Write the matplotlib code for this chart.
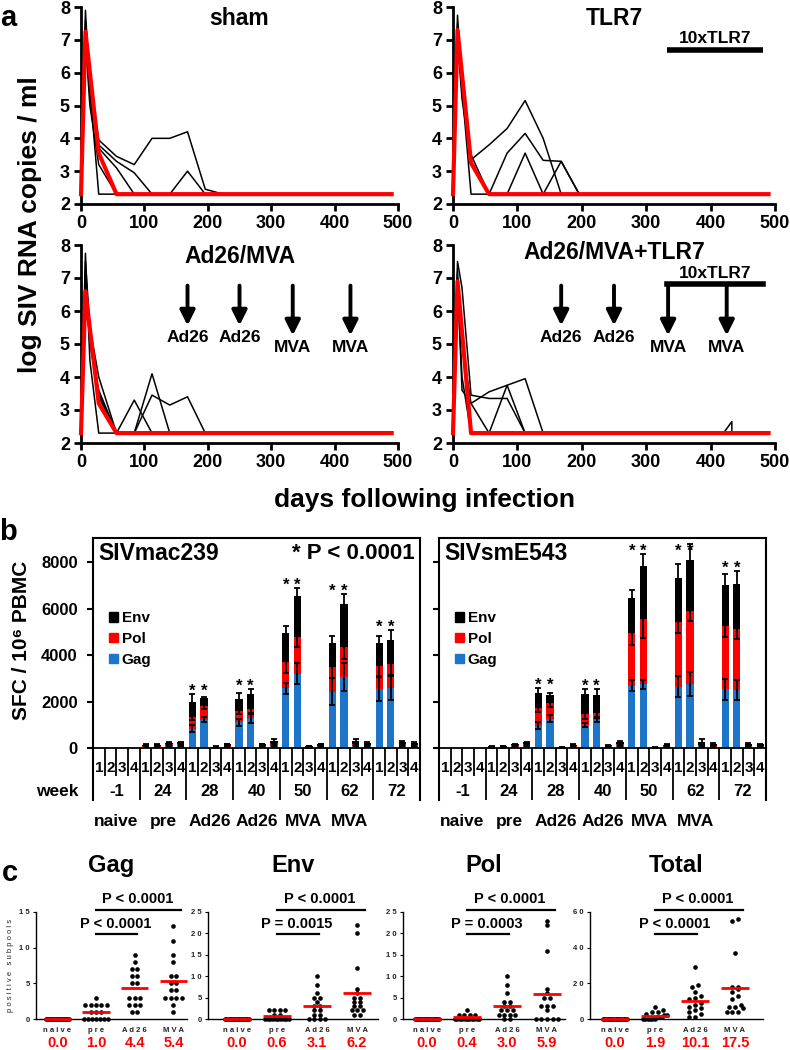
import matplotlib
matplotlib.use('Agg')
import matplotlib.pyplot as plt
import matplotlib.transforms as mtransforms
from matplotlib.patches import Patch
import numpy as np

plt.rcParams['font.family'] = ['Liberation Sans', 'DejaVu Sans']
plt.rcParams['font.weight'] = 'bold'

W, H = 790, 1050
RED = '#ff0000'
BLUE = '#1c75c8'

# ---------------- a: plasma viral loads ----------------
days = [0, 7, 14, 28, 56, 84, 112, 140, 168, 196, 224, 490]
days_late = [0, 7, 14, 28, 56, 84, 112, 140, 168, 196, 224, 420, 433, 433, 490]
mean_days = [0, 7, 28, 56, 490]

sham_vl = [
    [2.3, 7.9, 5.5, 2.3, 2.3, 2.3, 2.3, 2.3, 2.3, 2.3, 2.3, 2.3],
    [2.3, 7.6, 5.8, 3.95, 3.45, 3.2, 4.0, 4.0, 4.2, 2.45, 2.3, 2.3],
    [2.3, 7.4, 5.5, 3.8, 3.3, 2.95, 2.3, 2.3, 3.0, 2.3, 2.3, 2.3],
    [2.3, 7.2, 5.3, 3.7, 3.1, 2.3, 2.3, 2.3, 2.3, 2.3, 2.3, 2.3],
    [2.3, 7.0, 5.0, 3.2, 2.3, 2.3, 2.3, 2.3, 2.3, 2.3, 2.3, 2.3],
]
sham_mean = [2.3, 7.25, 3.55, 2.3, 2.3]

tlr7_vl = [
    [2.3, 7.75, 5.5, 2.3, 2.3, 2.3, 2.3, 2.3, 2.3, 2.3, 2.3, 2.3],
    [2.3, 7.5, 5.6, 3.35, 3.8, 4.3, 5.15, 4.0, 2.3, 2.3, 2.3, 2.3],
    [2.3, 7.3, 5.4, 3.5, 2.3, 3.55, 4.15, 3.33, 3.3, 2.3, 2.3, 2.3],
    [2.3, 7.0, 5.2, 3.3, 2.3, 2.3, 3.55, 2.3, 3.3, 2.3, 2.3, 2.3],
]
tlr7_mean = [2.3, 7.3, 3.25, 2.3, 2.3]

vac_vl = [
    [2.3, 7.75, 4.5, 2.3, 2.3, 2.3, 2.3, 2.3, 2.3, 2.3, 2.3, 2.3],
    [2.3, 7.5, 5.5, 4.0, 2.3, 2.3, 2.3, 2.3, 2.3, 2.3, 2.3, 2.3],
    [2.3, 7.2, 5.3, 3.4, 2.3, 3.3, 2.3, 2.3, 2.3, 2.3, 2.3, 2.3],
    [2.3, 7.0, 5.0, 3.6, 2.3, 2.3, 4.1, 2.3, 2.3, 2.3, 2.3, 2.3],
    [2.3, 6.8, 5.2, 3.5, 2.3, 2.3, 3.45, 3.15, 3.4, 2.3, 2.3, 2.3],
]
vac_mean = [2.3, 6.6, 3.2, 2.3, 2.3]

vactlr_vl = [
    [2.3, 7.5, 6.7, 3.45, 3.35, 3.35, 2.3, 2.3, 2.3, 2.3, 2.3, 2.3, 2.3, 2.3, 2.3],
    [2.3, 7.0, 3.6, 3.2, 2.3, 3.75, 2.3, 2.3, 2.3, 2.3, 2.3, 2.3, 2.3, 2.3, 2.3],
    [2.3, 7.2, 5.0, 3.2, 3.55, 3.75, 3.95, 2.3, 2.3, 2.3, 2.3, 2.3, 2.3, 2.3, 2.3],
    [2.3, 6.8, 4.0, 2.3, 2.3, 2.3, 2.3, 2.3, 2.3, 2.3, 2.3, 2.3, 2.65, 2.3, 2.3],
]
vactlr_mean = [2.3, 6.9, 2.3, 2.3, 2.3]

ad26_days = [168, 250]
mva_days = [334, 425]
tlr7_window = [333, 482]

# ---------------- b: ELISPOT (SFC / 10^6 PBMC) ----------------
weeks = ['-1', '24', '28', '40', '50', '62', '72']
bar_labels = ['1', '2', '3', '4']
regimen = ['naive', 'pre', 'Ad26', 'Ad26', 'MVA', 'MVA']
star_groups = [2, 3, 4, 5, 6]

mac_gag = [0, 0, 0, 0, 60, 60, 110, 120, 830, 1230, 20, 60, 1110, 1300, 70, 130,
           2570, 3190, 40, 60, 2430, 3040, 100, 80, 2540, 2570, 100, 70]
mac_pol = [0, 0, 0, 0, 40, 40, 60, 60, 530, 600, 20, 50, 490, 390, 40, 90,
           1120, 1570, 20, 50, 1070, 1290, 80, 60, 1000, 1040, 70, 80]
mac_env = [0, 0, 0, 0, 50, 50, 70, 80, 640, 320, 30, 70, 510, 640, 70, 110,
           1280, 1780, 40, 70, 1040, 1880, 120, 90, 1000, 1030, 110, 70]
mac_gag_err = [0, 0, 0, 0, 10, 10, 20, 20, 150, 120, 5, 10, 150, 200, 10, 20,
               250, 450, 10, 10, 590, 600, 20, 10, 520, 520, 20, 10]
mac_pol_err = [0, 0, 0, 0, 10, 10, 20, 20, 150, 150, 5, 10, 150, 200, 10, 20,
               450, 400, 10, 10, 500, 500, 20, 10, 450, 450, 20, 10]
mac_env_err = [0, 0, 0, 0, 15, 15, 25, 25, 330, 60, 10, 20, 260, 210, 20, 70,
               270, 330, 15, 20, 290, 400, 100, 30, 290, 430, 50, 30]

sm_gag = [0, 0, 0, 0, 30, 40, 70, 110, 970, 1260, 20, 60, 1000, 1210, 50, 120,
          2690, 2740, 10, 60, 2640, 2760, 80, 60, 2540, 2500, 60, 60]
sm_pol = [0, 0, 0, 0, 25, 30, 50, 70, 770, 700, 10, 40, 470, 290, 30, 60,
          2240, 2790, 10, 40, 2790, 3140, 70, 50, 2700, 2640, 40, 50]
sm_env = [0, 0, 0, 0, 25, 30, 50, 70, 620, 330, 20, 50, 840, 790, 50, 80,
          1530, 2280, 20, 50, 1900, 2200, 100, 70, 1760, 1900, 70, 60]
sm_gag_err = [0, 0, 0, 0, 10, 10, 10, 20, 150, 150, 5, 10, 100, 100, 10, 20,
              250, 200, 5, 10, 450, 500, 20, 10, 450, 450, 10, 10]
sm_pol_err = [0, 0, 0, 0, 10, 10, 20, 20, 200, 200, 5, 10, 200, 150, 10, 20,
              500, 800, 5, 10, 500, 450, 30, 10, 450, 450, 10, 10]
sm_env_err = [0, 0, 0, 0, 15, 15, 20, 30, 210, 90, 10, 20, 220, 240, 15, 30,
              330, 530, 10, 20, 600, 670, 150, 30, 500, 570, 50, 30]

# ---------------- c: positive subpools ----------------
c_categories = ['naive', 'pre', 'Ad26', 'MVA']
naive_zero = [0, 0, 0, 0, 0, 0, 0, 0, 0, 0, 0, 0, 0, 0, 0, 0]
gag_pre = [3, 2, 2, 2, 2, 2, 1, 1, 1, 0, 0, 0, 0, 0, 0, 0]
gag_ad26 = [9, 8, 7, 7, 6, 6, 5, 5, 3, 3, 3, 2, 2, 2, 1, 1]
gag_mva = [13, 11, 9, 8, 6, 6, 5, 5, 4, 4, 3, 3, 3, 3, 2, 1]
env_pre = [2, 2, 2, 2, 1, 1, 0, 0, 0, 0, 0, 0, 0, 0, 0, 0]
env_ad26 = [10, 8, 6, 5, 5, 4, 3, 3, 2, 2, 1, 1, 0, 0, 0, 0]
env_mva = [22, 20, 12, 7, 6, 5, 5, 4, 4, 3, 3, 2, 2, 2, 1, 1]
pol_pre = [2, 1, 1, 1, 1, 0, 0, 0, 0, 0, 0, 0, 0, 0, 0, 0]
pol_ad26 = [10, 8, 6, 4, 4, 3, 3, 2, 2, 2, 1, 1, 1, 1, 0, 0]
pol_mva = [23, 22, 16, 7, 6, 5, 5, 3, 3, 3, 2, 0, 0, 0, 0, 0]
tot_pre = [7, 5, 4, 4, 3, 2, 2, 1, 1, 1, 0, 0, 0, 0, 0, 0]
tot_ad26 = [29, 19, 18, 15, 13, 12, 11, 9, 8, 7, 6, 5, 4, 3, 1, 1]
tot_mva = [56, 55, 37, 18, 18, 17, 15, 13, 11, 8, 7, 7, 6, 4, 4, 4]

fig = plt.figure(figsize=(7.9, 10.5), dpi=100)


def box(l, t, r, b):
    return fig.add_axes([l / W, 1 - b / H, (r - l) / W, (b - t) / H])


def ftext(x, y, s, **kw):
    fig.text(x / W, 1 - y / H, s, **kw)


# ---------- panel a ----------
def vl_panel(ax, d, vl, mean, title, ty):
    for row in vl:
        ax.plot(d, row, color='black', lw=1.1, zorder=2, clip_on=False)
    ax.plot(mean_days, mean, color=RED, lw=3, zorder=3, clip_on=False)
    ax.set_xlim(0, 500)
    ax.set_ylim(2, 8)
    ax.set_xticks([0, 100, 200, 300, 400, 500])
    ax.set_yticks([2, 3, 4, 5, 6, 7, 8])
    ax.spines[['top', 'right']].set_visible(False)
    ax.spines[['left', 'bottom']].set_linewidth(2)
    ax.tick_params(direction='out', width=2, length=5, labelsize=13, pad=3)
    ax.text(0.5, ty, title, transform=ax.transAxes, ha='center', va='center', fontsize=16.5)


def vacc_arrows(ax, mva_top):
    style = dict(arrowstyle='-|>,head_width=0.45,head_length=0.9', lw=2.8, color='black',
                 shrinkA=0, shrinkB=0)
    for d in ad26_days:
        ax.annotate('', xy=(d, 5.56), xytext=(d, 6.77), arrowprops=style)
        ax.text(d, 5.2, 'Ad26', ha='center', va='center', fontsize=12.5)
    for d in mva_days:
        ax.annotate('', xy=(d, 5.26), xytext=(d, mva_top), arrowprops=style)
        ax.text(d, 4.9, 'MVA', ha='center', va='center', fontsize=12.5)


a1 = box(81, 7, 398, 204)
vl_panel(a1, days, sham_vl, sham_mean, 'sham', 0.944)
a2 = box(453, 7, 775, 204)
vl_panel(a2, days, tlr7_vl, tlr7_mean, 'TLR7', 0.944)
a2.plot(tlr7_window, [6.68, 6.68], color='black', lw=4, solid_capstyle='butt')
a2.text(np.mean(tlr7_window), 7.04, '10xTLR7', ha='center', va='center', fontsize=12.5)
a3 = box(81, 245, 398, 443)
vl_panel(a3, days, vac_vl, vac_mean, 'Ad26/MVA', 0.94)
vacc_arrows(a3, 6.77)
a4 = box(453, 245, 775, 443)
vl_panel(a4, days_late, vactlr_vl, vactlr_mean, 'Ad26/MVA+TLR7', 0.96)
vacc_arrows(a4, 6.82)
a4.plot(tlr7_window, [6.82, 6.82], color='black', lw=4, solid_capstyle='projecting')
a4.text(np.mean(tlr7_window), 7.14, '10xTLR7', ha='center', va='center', fontsize=12.5)

ftext(30, 225, 'log SIV RNA copies / ml', rotation=90, ha='center', va='center', fontsize=19)
ftext(425, 500, 'days following infection', ha='center', va='center', fontsize=19)
ftext(8, 18, 'a', ha='center', va='center', fontsize=21)


# ---------- panel b ----------
def elispot(ax, gag, pol, env, gag_e, pol_e, env_e, name, left):
    gag, pol, env = np.array(gag), np.array(pol), np.array(env)
    x = np.arange(len(gag))
    ax.bar(x, gag, 0.62, color=BLUE, zorder=2)
    ax.bar(x, pol, 0.62, bottom=gag, color=RED, zorder=2)
    ax.bar(x, env, 0.62, bottom=gag + pol, color='black', zorder=2)
    for top, err in ((gag, gag_e), (gag + pol, pol_e), (gag + pol + env, env_e)):
        err = np.array(err)
        m = err > 0
        ax.errorbar(x[m], top[m], yerr=err[m], fmt='none', ecolor='black',
                    elinewidth=1.3, capsize=2.5, capthick=1.3, zorder=3)
    err_top = gag + pol + env + np.array(env_e)
    for g in star_groups:
        i = g * 4
        ys = min(max(err_top[i], err_top[i + 1]) - 60, 8250)
        for j in (i, i + 1):
            ax.text(j, ys, '*', ha='center', va='baseline', fontsize=12)

    ylo = -2225
    ax.set_xlim(-0.5, 27.5)
    ax.set_ylim(ylo, 9030)
    ax.axhline(0, color='black', lw=1.3, zorder=4)
    short = [g * 4 + k + 0.5 for g in range(7) for k in range(3)]
    ax.vlines(short, -1200, 0, color='black', lw=1.3)
    ax.vlines([g * 4 - 0.5 for g in range(1, 7)], ylo, 0, color='black', lw=1.3)
    for i in x:
        ax.text(i, -855, bar_labels[i % 4], ha='center', va='center', fontsize=11)
    for g, wk in enumerate(weeks):
        ax.text(g * 4 + 1.5, -1880, wk, ha='center', va='center', fontsize=12)
    for g, r in enumerate(regimen):
        ax.text(g * 4 + 1.5, -3165, r, ha='center', va='center', fontsize=12.5, clip_on=False)

    ax.set_yticks([0, 2000, 4000, 6000, 8000])
    ax.spines['bottom'].set_visible(False)
    for s in ('left', 'right', 'top'):
        ax.spines[s].set_linewidth(1.5)
    ax.tick_params(axis='x', bottom=False, labelbottom=False)
    ax.tick_params(axis='y', length=4, width=1.5, labelsize=12, pad=7, labelleft=left)
    ax.text(0.015, 0.94, name, transform=ax.transAxes, ha='left', va='center', fontsize=16.5)
    handles = [Patch(color='black', label='Env'), Patch(color=RED, label='Pol'),
               Patch(color=BLUE, label='Gag')]
    ax.legend(handles=handles, loc='upper left', bbox_to_anchor=(0.05, 0.72), frameon=False,
              fontsize=11, handlelength=0.55, handleheight=0.55, handletextpad=0.25,
              labelspacing=0.45, borderaxespad=0, borderpad=0)


b1 = box(93, 538, 420, 800)
elispot(b1, mac_gag, mac_pol, mac_env, mac_gag_err, mac_pol_err, mac_env_err, 'SIVmac239', True)
b1.text(0.985, 0.94, '* P < 0.0001', transform=b1.transAxes, ha='right', va='center', fontsize=16)
blend = mtransforms.blended_transform_factory(b1.transAxes, b1.transData)
b1.text(-0.11, -1880, 'week', transform=blend, ha='center', va='center', fontsize=12.5)
b2 = box(439, 538, 766, 800)
elispot(b2, sm_gag, sm_pol, sm_env, sm_gag_err, sm_pol_err, sm_env_err, 'SIVsmE543', False)

ftext(22, 640, 'SFC / 10\u2076 PBMC', rotation=90, ha='center', va='center', fontsize=15)
ftext(8, 532, 'b', ha='center', va='center', fontsize=21)


# ---------- panel c ----------
def swarm_rows(vals, rowh):
    # group sorted values into horizontal rows (dots closer than one dot height)
    rows = []
    for v in sorted(vals):
        if rows and v - rows[-1][0] < rowh:
            rows[-1].append(v)
        else:
            rows.append([v])
    return rows


def dotplot(ax, groups, yticks, xlim, title, p_low, p_high, ylabel):
    tr = mtransforms.blended_transform_factory(ax.transData, ax.transAxes)
    rowh = (yticks[-1] - yticks[0]) * 4.0 / 107
    for i, vals in enumerate(groups):
        for row in swarm_rows(vals, rowh):
            k = len(row)
            half = min((k - 1) * 0.07, 0.3)
            xs = i + np.linspace(-half, half, k)
            ax.scatter(xs, row, s=11, color='black', lw=0, zorder=3, clip_on=False)
        m = np.mean(vals)
        ax.hlines(m, i - 0.35, i + 0.35, color=RED, lw=2, zorder=4, clip_on=False)
        ax.text(i, -0.224, f'{m:.1f}', transform=tr, color=RED, fontsize=10.5,
                ha='center', va='center')
    ax.set_xlim(*xlim)
    ax.set_ylim(yticks[0], yticks[-1])
    ax.set_yticks(yticks)
    ax.set_yticklabels([' '.join(str(t)) for t in yticks], fontsize=5.5, color='#222222')
    ax.set_xticks(range(len(c_categories)))
    ax.set_xticklabels([' '.join(c) for c in c_categories], fontsize=5.5, color='#222222')
    ax.tick_params(axis='y', length=2.5, width=0.8, pad=2)
    ax.tick_params(axis='x', length=0, pad=6)
    ax.spines[['top', 'right']].set_visible(False)
    ax.spines[['left', 'bottom']].set_linewidth(1.0)
    ax.plot([1.0, 3.2], [1.02, 1.02], transform=tr, color='black', lw=1.6, clip_on=False)
    ax.text(2.07, 1.121, p_high, transform=tr, ha='center', va='center', fontsize=10.5)
    ax.plot([1.0, 2.05], [0.794, 0.794], transform=tr, color='black', lw=1.6, clip_on=False)
    ax.text(1.5, 0.888, p_low, transform=tr, ha='center', va='center', fontsize=10.5)
    ax.text(0.5, 1.43, title, transform=ax.transAxes, ha='center', va='center', fontsize=17)
    if ylabel:
        ax.set_ylabel(ylabel, fontsize=5.5, color='#222222', labelpad=4)


c1 = box(36, 912, 187, 1019)
dotplot(c1, [naive_zero, gag_pre, gag_ad26, gag_mva], [0, 5, 10, 15], (-0.55, 3.35), 'Gag',
        'P < 0.0001', 'P < 0.0001', ' '.join('positive') + '   ' + ' '.join('subpools'))
c2 = box(208, 912, 378, 1019)
dotplot(c2, [naive_zero, env_pre, env_ad26, env_mva], [0, 5, 10, 15, 20, 25], (-0.72, 3.52), 'Env',
        'P = 0.0015', 'P < 0.0001', None)
c3 = box(403, 912, 565, 1019)
dotplot(c3, [naive_zero, pol_pre, pol_ad26, pol_mva], [0, 5, 10, 15, 20, 25], (-0.6, 3.45), 'Pol',
        'P = 0.0003', 'P < 0.0001', None)
c4 = box(590, 912, 763, 1019)
dotplot(c4, [naive_zero, tot_pre, tot_ad26, tot_mva], [0, 20, 40, 60], (-0.62, 3.7), 'Total',
        'P < 0.0001', 'P < 0.0001', None)
ftext(10, 873, 'c', ha='center', va='center', fontsize=21)

fig.savefig('out.png', dpi=100)
